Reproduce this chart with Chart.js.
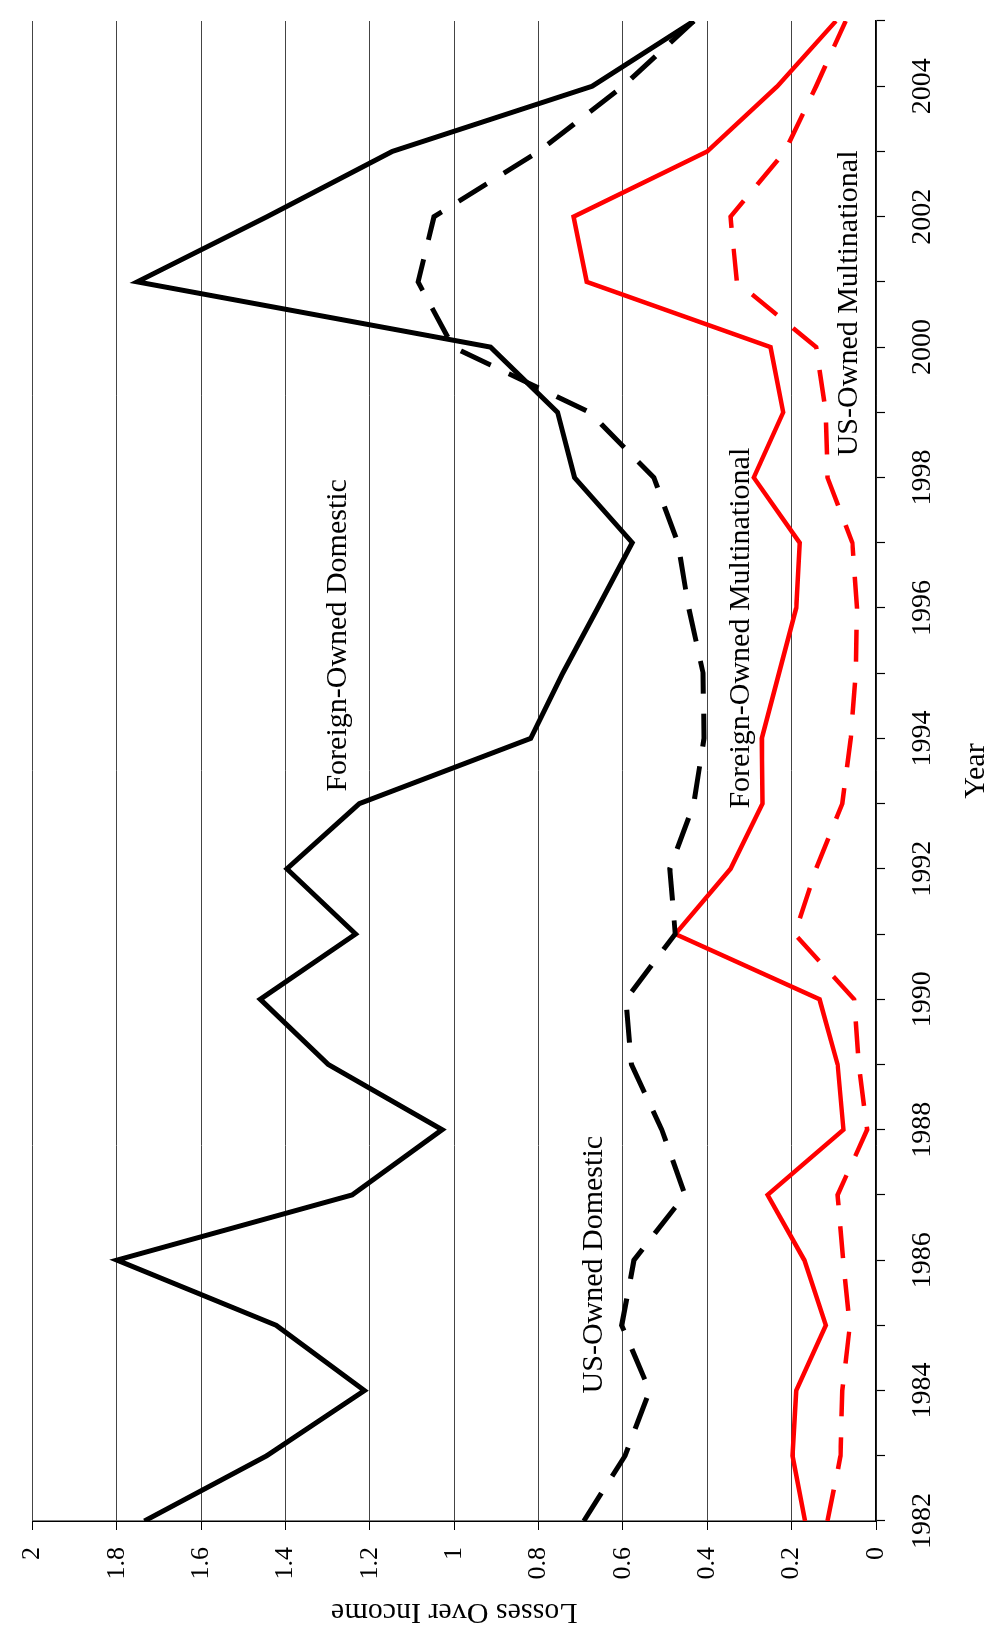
<!DOCTYPE html>
<html>
<head>
<meta charset="utf-8">
<script src="https://cdn.jsdelivr.net/npm/chart.js@4.4.0/dist/chart.umd.min.js"></script>
<style>
  html, body { margin: 0; padding: 0; background: #ffffff; overflow: hidden; }
  body { width: 988px; height: 1638px; position: relative; }
  #wrap { position: absolute; left: 0; top: 1638px; width: 1638px; height: 988px;
          transform-origin: 0 0; transform: rotate(-90deg); }
</style>
</head>
<body>
<div id="wrap"><canvas id="c" width="1638" height="988"></canvas></div>
<script>
// ---- data ----
const years = [1982,1983,1984,1985,1986,1987,1988,1989,1990,1991,1992,1993,
               1994,1995,1996,1997,1998,1999,2000,2001,2002,2003,2004,2005];
const foreignOwnedDomestic = [1.735,1.445,1.213,1.422,1.80,1.242,1.029,1.299,1.46,1.234,1.397,1.225,
                              0.819,0.743,0.66,0.578,0.715,0.755,0.914,1.752,1.444,1.147,0.673,0.432];
const usOwnedDomestic = [0.693,0.595,0.537,0.603,0.574,0.453,0.508,0.58,0.593,0.476,0.489,0.432,
                         0.408,0.41,0.444,0.47,0.527,0.679,1.003,1.086,1.048,0.80,0.60,0.432];
const foreignOwnedMultinational = [0.168,0.198,0.189,0.119,0.17,0.257,0.077,0.091,0.134,0.476,0.345,0.269,
                                   0.271,0.23,0.189,0.181,0.29,0.22,0.25,0.686,0.717,0.40,0.234,0.095];
const usOwnedMultinational = [0.115,0.084,0.08,0.062,0.078,0.091,0.021,0.041,0.052,0.193,0.142,0.08,
                              0.06,0.048,0.045,0.056,0.115,0.119,0.142,0.33,0.345,0.216,0.142,0.072];
const xTickLabels = [1982,1984,1986,1988,1990,1992,1994,1996,1998,2000,2002,2004];
const yTickValues = [0,0.2,0.4,0.6,0.8,1,1.2,1.4,1.6,1.8,2];
const seriesLabels = ["Foreign-Owned Domestic","US-Owned Domestic","Foreign-Owned Multinational","US-Owned Multinational"];
const seriesLabelYears = [1995.58, 1985.93, 1995.69, 2000.67];
const seriesLabelValues = [1.258, 0.649, 0.300, 0.0445];
const xTitle = "Year";
const yTitle = "Losses Over Income";

// ---- chart ----
const FONT = "'Liberation Serif', 'Times New Roman', Times, serif";
Chart.defaults.font.family = FONT;
Chart.defaults.color = '#000';

const pts = arr => years.map((yr, i) => ({ x: yr, y: arr[i] }));

const labelPlugin = {
  id: 'seriesLabels',
  afterDatasetsDraw(chart) {
    const { ctx, scales } = chart;
    ctx.save();
    ctx.font = "30px " + FONT;
    ctx.fillStyle = '#000';
    ctx.textAlign = 'center';
    ctx.textBaseline = 'alphabetic';
    seriesLabels.forEach((t, i) => {
      const px = scales.x.getPixelForValue(seriesLabelYears[i]);
      const py = scales.y.getPixelForValue(seriesLabelValues[i]);
      ctx.fillText(t, px, py);
    });
    ctx.restore();
  }
};

new Chart(document.getElementById('c'), {
  type: 'line',
  data: {
    datasets: [
      { label: 'US-Owned Domestic', data: pts(usOwnedDomestic), borderColor: '#000', borderWidth: 5,
        borderDash: [33, 20] },
      { label: 'Foreign-Owned Domestic', data: pts(foreignOwnedDomestic), borderColor: '#000', borderWidth: 5 },
      { label: 'US-Owned Multinational', data: pts(usOwnedMultinational), borderColor: '#ff0000', borderWidth: 4.5,
        borderDash: [32, 21] },
      { label: 'Foreign-Owned Multinational', data: pts(foreignOwnedMultinational), borderColor: '#ff0000', borderWidth: 4.5 }
    ]
  },
  options: {
    responsive: false,
    animation: false,
    devicePixelRatio: 1,
    events: [],
    layout: { padding: { left: 0, right: 8, top: 22, bottom: 0 } },
    elements: { point: { radius: 0 }, line: { tension: 0, fill: false, borderCapStyle: 'butt', borderJoinStyle: 'miter' } },
    plugins: { legend: { display: false }, tooltip: { enabled: false }, title: { display: false } },
    scales: {
      x: {
        type: 'linear', min: 1982, max: 2005,
        afterBuildTicks: s => { s.ticks = years.map(v => ({ value: v })); },
        afterFit: s => { s.height = 112; },
        ticks: {
          autoSkip: false, maxRotation: 0, minRotation: 0, padding: 21,
          font: { size: 28 }, color: '#000',
          callback: v => xTickLabels.includes(v) ? String(v) : ''
        },
        grid: { drawOnChartArea: false, drawTicks: true, tickLength: 9, tickColor: '#000', tickWidth: 1.2 },
        border: { display: true, color: '#000', width: 1.5 },
        title: { display: true, text: xTitle, font: { size: 30, lineHeight: 0.8 }, color: '#000', padding: 0 }
      },
      y: {
        type: 'linear', min: 0, max: 2,
        afterBuildTicks: s => { s.ticks = yTickValues.map(v => ({ value: v })); },
        afterFit: s => { s.width = 117; },
        ticks: {
          padding: 17, font: { size: 26 }, color: '#000',
          callback: v => String(+v.toFixed(1))
        },
        grid: { color: '#444', lineWidth: 1, drawTicks: true, tickLength: 9, tickColor: '#000' },
        border: { display: true, color: '#000', width: 1.5 },
        title: { display: true, text: yTitle, font: { size: 30, lineHeight: 1.2 }, color: '#000', padding: { top: 8, bottom: 0 } }
      }
    }
  },
  plugins: [labelPlugin]
});
</script>
</body>
</html>
